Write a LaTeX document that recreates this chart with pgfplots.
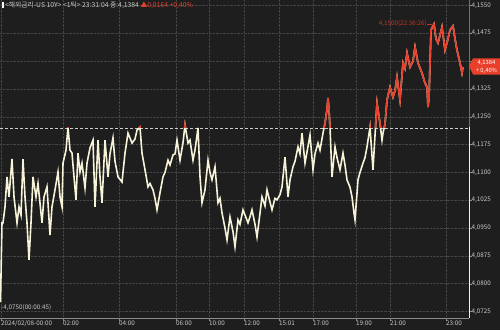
\documentclass[border=0pt]{standalone}
\usepackage{pgfplots}
\pgfplotsset{compat=1.18}
\usepackage{pgfplotstable}
\usepackage{fontspec}
\setmainfont{Noto Sans CJK KR}
\definecolor{bg}{HTML}{1E1E1E}
\definecolor{cream}{HTML}{F7F3D8}
\definecolor{upred}{HTML}{E8402A}
\definecolor{gridc}{HTML}{444444}
\definecolor{txt}{HTML}{C8C8C8}

\pgfplotstableread{
x y
0 4.0790
0.5 4.0750
2 4.0964
3 4.0964
5 4.1007
7 4.1088
9 4.1034
12 4.1136
14 4.1034
17 4.0964
19 4.1007
21 4.0985
23 4.1136
25 4.1034
27 4.0964
29 4.0864
31 4.0964
33 4.1088
36 4.1034
38 4.1070
42 4.0964
44 4.1034
47 4.1061
50 4.0931
52 4.1007
55 4.1053
58 4.1101
60 4.1034
62 4.1007
63 4.1125
66 4.1160
68 4.1222
70 4.1160
72 4.1152
74 4.1088
76 4.1026
78 4.1152
80 4.1101
82 4.1125
85 4.1058
87 4.1125
90 4.1166
93 4.1187
95 4.1007
98 4.1187
100 4.1088
102 4.1018
105 4.1187
108 4.1088
110 4.1150
113 4.1193
115 4.1130
118 4.1088
122 4.1074
125 4.1152
128 4.1206
132 4.1179
135 4.1190
137 4.1214
140 4.1222
142 4.1152
145 4.1107
148 4.1061
150 4.1070
153 4.1053
155 4.1030
157 4.0999
160 4.1045
163 4.1088
165 4.1100
168 4.1133
170 4.1120
173 4.1147
175 4.1150
177 4.1187
180 4.1133
183 4.1180
185 4.1228
188 4.1179
190 4.1187
193 4.1133
195 4.1160
198 4.1220
200 4.1088
202 4.1018
205 4.1053
208 4.1133
210 4.1100
212 4.1080
215 4.1115
218 4.1018
220 4.1030
222 4.0991
225 4.0950
227 4.0918
230 4.0980
233 4.0940
235 4.0899
238 4.0972
240 4.0960
243 4.0999
245 4.0985
248 4.0964
250 4.0980
252 4.0999
255 4.0960
257 4.0926
260 4.0990
262 4.1034
265 4.1010
267 4.1053
270 4.1020
272 4.0999
275 4.1030
277 4.1026
280 4.1040
282 4.1061
285 4.1141
288 4.1034
290 4.1080
293 4.1115
295 4.1130
298 4.1169
300 4.1150
302 4.1206
305 4.1125
308 4.1170
310 4.1201
313 4.1107
315 4.1150
318 4.1179
320 4.1160
323 4.1206
325 4.1233
327 4.1270
328 4.1301
329 4.1270
330 4.1222
332 4.1088
335 4.1169
337 4.1140
340 4.1107
343 4.1152
345 4.1120
347 4.1080
350 4.1060
352 4.1034
354 4.0990
355 4.0972
358 4.1080
360 4.1100
363 4.1125
365 4.1140
367 4.1169
370 4.1222
373 4.1107
375 4.1200
377 4.1287
379 4.1250
380 4.1233
382 4.1187
383 4.1206
385 4.1230
387 4.1295
390 4.1330
393 4.1303
395 4.1320
397 4.1357
400 4.1295
403 4.1395
405 4.1380
407 4.1422
410 4.1384
413 4.1400
415 4.1438
418 4.1395
422 4.1368
425 4.1341
427 4.1330
428 4.1276
429 4.1300
431 4.1484
434 4.1500
436 4.1460
438 4.1449
440 4.1470
442 4.1492
445 4.1430
448 4.1460
450 4.1484
453 4.1495
455 4.1460
457 4.1430
460 4.1395
462 4.1368
463 4.1384
}\yld

\begin{document}
\begin{tikzpicture}
\fill[bg] (0,-12pt) rectangle (500pt,318pt);
\begin{axis}[at={(0,0)}, anchor=south west, scale only axis,
  width=469pt, height=318pt,
  xmin=0, xmax=469, ymin=4.07074, ymax=4.15648,
  axis x line*=bottom, axis y line*=right, axis line style={-},
  x axis line style={draw=gray!90},
  y axis line style={draw=cream, line width=0.8pt},
  xtick={1,63,119,176,209,244,279,313,356,390,446},
  xticklabels={2024/02/08-00:00,02:00,04:00,06:00,10:00,12:00,15:01,17:00,19:00,21:00,23:00},
  xticklabel style={anchor=north west, xshift=-1pt, yshift=1pt, font=\fontsize{6.3}{7}\selectfont, text=txt, inner sep=1pt},
  ytick={4.0725,4.0800,4.0875,4.0950,4.1025,4.1100,4.1175,4.1250,4.1325,4.1400,4.1475,4.1550},
  yticklabels={4{,}0725,4{,}0800,4{,}0875,4{,}0950,4{,}1025,4{,}1100,4{,}1175,4{,}1250,4{,}1325,,4{,}1475,4{,}1550},
  yticklabel style={font=\fontsize{6.3}{7}\selectfont, text=txt, inner sep=1pt, anchor=west, xshift=-1pt},
  tick style={draw=gray!90}, tick align=outside, major tick length=2.5pt,
  grid=major, grid style={gridc, densely dotted, line width=0.5pt},
  clip=true,
]
\draw[white!80!black, densely dashed, line width=0.6pt] (axis cs:0,4.1220) -- (axis cs:469,4.1220);
\addplot[cream, line width=1.6pt, no markers] table[x=x, y=y] {\yld};
\begin{scope}
\clip (axis cs:0,4.1220) rectangle (axis cs:469,4.16);
\addplot[upred, line width=1.6pt, no markers] table[x=x, y=y] {\yld};
\end{scope}
\end{axis}
% right axis red part
\draw[upred, line width=0.8pt] (469pt,191pt) -- (469pt,318pt);
% title
\node[anchor=west, inner sep=0pt, font=\fontsize{6.8}{7.5}\selectfont, text=txt] at (2pt,312.5pt)
  {\textcolor{white}{\rule{1.3pt}{5.5pt}} <해외금리-US 10Y> <1틱> 23:31:04 종:4,1384 \textcolor{upred}{▲0,0164 +0,40\%}};
% min label
\node[anchor=west, inner sep=0pt, font=\fontsize{6.3}{7}\selectfont, text=txt] at (1pt,10pt) {-4,0750(00:00:45)};
% max label
\node[anchor=east, inner sep=0pt, font=\fontsize{6.3}{7}\selectfont, text=upred!85!black] at (427pt,294pt) {4,1500(22:36:26)};
\draw[upred!85!black, line width=0.5pt] (427pt,294pt) -- (432pt,294pt);
% price box
\fill[upred] (469pt,252pt) -- (473pt,259.5pt) -- (500pt,259.5pt) -- (500pt,243.5pt) -- (473pt,243.5pt) -- cycle;
\node[inner sep=0pt, font=\fontsize{5.8}{6}\selectfont, text=white] at (486.5pt,255.5pt) {4,1384};
\node[inner sep=0pt, font=\fontsize{5.8}{6}\selectfont, text=white] at (486.5pt,247.5pt) {+ 0,40\%};
\pgfresetboundingbox
\useasboundingbox (0,-12pt) rectangle (500pt,318pt);
\end{tikzpicture}
\end{document}
